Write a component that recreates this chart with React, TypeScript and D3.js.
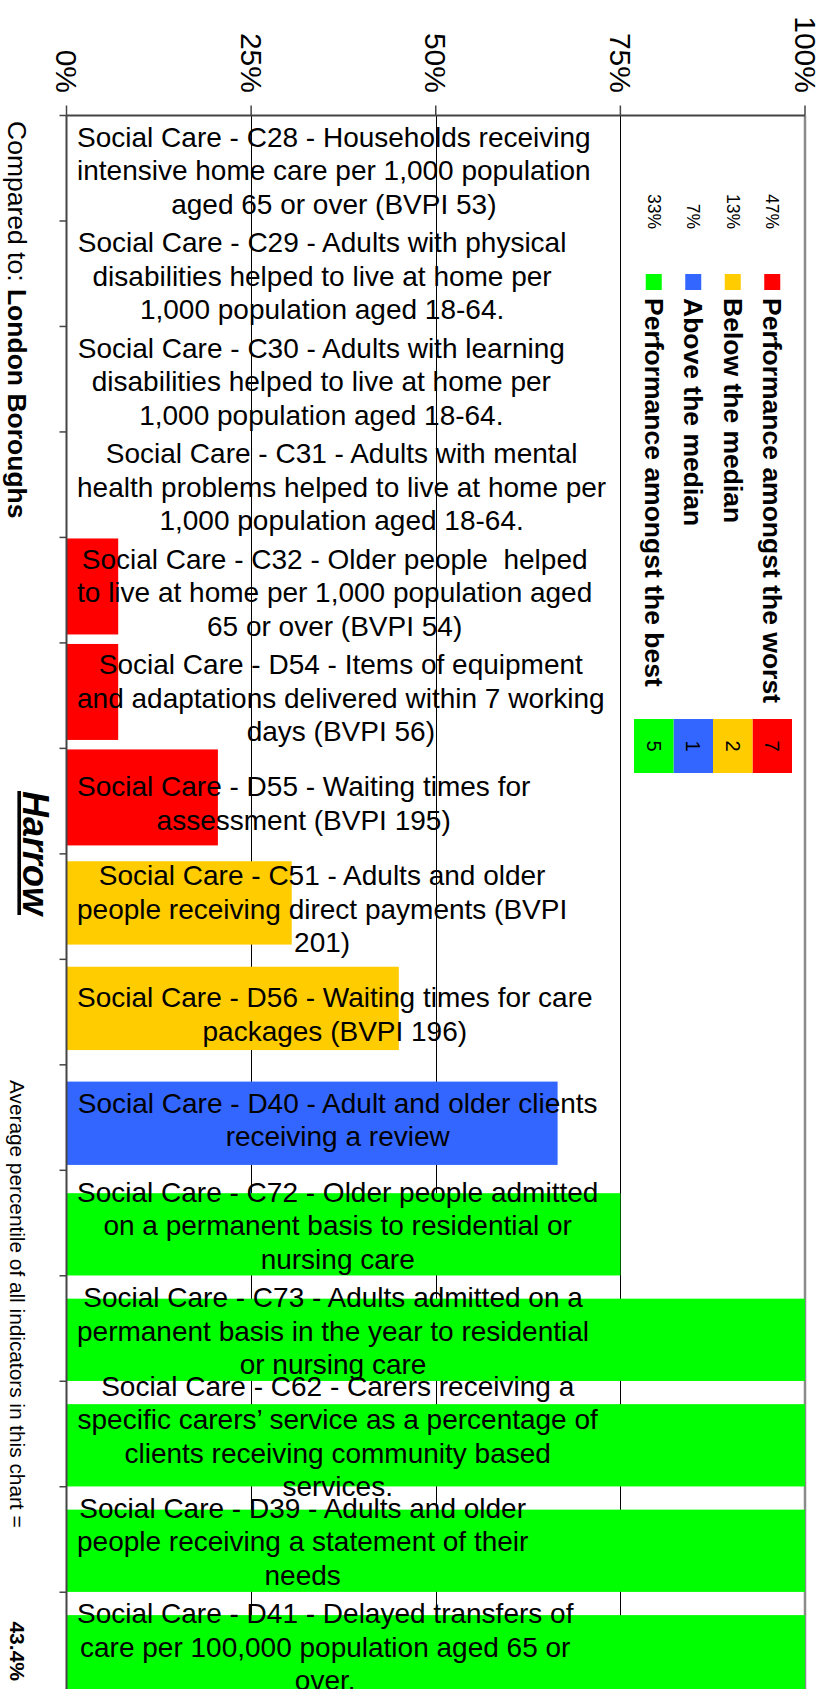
import React, { useMemo } from "react";
import * as d3 from "d3";

// indicator labels, already wrapped as in the source chart
const labels: string[][] = [
  ["Social Care - C28 - Households receiving", "intensive home care per 1,000 population", "aged 65 or over (BVPI 53)"],
  ["Social Care - C29 - Adults with physical", "disabilities helped to live at home per", "1,000 population aged 18-64."],
  ["Social Care - C30 - Adults with learning", "disabilities helped to live at home per", "1,000 population aged 18-64."],
  ["Social Care - C31 - Adults with mental", "health problems helped to live at home per", "1,000 population aged 18-64."],
  ["Social Care - C32 - Older people  helped", "to live at home per 1,000 population aged", "65 or over (BVPI 54)"],
  ["Social Care - D54 - Items of equipment", "and adaptations delivered within 7 working", "days (BVPI 56)"],
  ["Social Care - D55 - Waiting times for", "assessment (BVPI 195)"],
  ["Social Care - C51 - Adults and older", "people receiving direct payments (BVPI", "201)"],
  ["Social Care - D56 - Waiting times for care", "packages (BVPI 196)"],
  ["Social Care - D40 - Adult and older clients", "receiving a review"],
  ["Social Care - C72 - Older people admitted", "on a permanent basis to residential or", "nursing care"],
  ["Social Care - C73 - Adults admitted on a", "permanent basis in the year to residential", "or nursing care"],
  ["Social Care - C62 - Carers receiving a", "specific carers\u2019 service as a percentage of", "clients receiving community based", "services."],
  ["Social Care - D39 - Adults and older", "people receiving a statement of their", "needs"],
  ["Social Care - D41 - Delayed transfers of", "care per 100,000 population aged 65 or", "over."],
];

// percentile of each indicator
const percentiles = [0, 0, 0, 0, 7, 7, 20.5, 30.5, 45, 66.5, 75, 100, 100, 100, 100];
const bands = ["worst", "worst", "worst", "worst", "worst", "worst", "worst", "below", "below", "above", "best", "best", "best", "best", "best"];

const bandKeys = ["worst", "below", "above", "best"];
const bandNames = ["Performance amongst the worst", "Below the median", "Above the median", "Performance amongst the best"];
const xTicks = [0, 25, 50, 75, 100];

const comparedTo = "London Boroughs";
const authority = "Harrow";

// colours and the slightly uneven bar placement of the original
const bandStyle: Record<string, { fill: string; h: number; dy: number }> = {
  worst: { fill: "#FF0000", h: 0.91, dy: -0.035 },
  below: { fill: "#FFCC00", h: 0.79, dy: -0.035 },
  above: { fill: "#3366FF", h: 0.79, dy: 0.054 },
  best: { fill: "#00FF00", h: 0.78, dy: 0.107 },
};

const FONT = "'Liberation Sans', Arial, sans-serif";
const W = 829;
const H = 1689;

export default function App() {
  const left = 66.5;
  const right = 805;
  const top = 115.5;
  const step = 105.48;

  const x = d3.scaleLinear().domain([0, 100]).range([left, right]);
  const y = d3
    .scaleBand<number>()
    .domain(d3.range(labels.length))
    .range([top, top + step * labels.length])
    .padding(0);

  // measure label lines so each block is centred on its longest line
  const widths = useMemo(() => {
    const ctx = document.createElement("canvas").getContext("2d")!;
    ctx.font = `28px 'Liberation Sans', Arial, sans-serif`;
    return labels.map((ls) => d3.max(ls, (l) => ctx.measureText(l).width) || 0);
  }, []);

  const counts = bandKeys.map((k) => bands.filter((b) => b === k).length);
  const total = d3.sum(counts);
  const avg = d3.mean(percentiles)!;

  const legendX = d3.scaleBand<number>().domain([3, 2, 1, 0]).range([634, 792]);
  const lineH = 33.5;

  return (
    <div style={{ position: "absolute", left: 0, top: 0 }}>
      <svg width={W} height={H} style={{ display: "block", fontFamily: FONT }}>
        <rect width={W} height={H} fill="#fff" />

        {/* gridlines */}
        {[25, 50, 75].map((t) => (
          <line key={t} x1={Math.round(x(t)) + 0.5} x2={Math.round(x(t)) + 0.5} y1={top} y2={H} stroke="#000" strokeWidth={1} />
        ))}
        <line x1={x(100)} x2={x(100)} y1={top} y2={H} stroke="#8a8a8a" strokeWidth={2.5} />

        {/* bars */}
        {percentiles.map((v, i) => {
          const s = bandStyle[bands[i]];
          const bh = step * s.h;
          const cy = y(i)! + step / 2 + s.dy * step;
          if (v <= 0) return null;
          return <rect key={i} x={x(0)} y={cy - bh / 2} width={x(v) - x(0)} height={bh} fill={s.fill} />;
        })}

        {/* axes */}
        <line x1={left} x2={right} y1={top} y2={top} stroke="#444" strokeWidth={2} />
        <line x1={left} x2={left} y1={top} y2={H} stroke="#444" strokeWidth={2} />
        {xTicks.map((t) => (
          <line key={t} x1={x(t)} x2={x(t)} y1={top - 10} y2={top} stroke="#444" strokeWidth={1.5} />
        ))}
        {d3.range(labels.length + 1).map((i) => (
          <line key={i} x1={left - 7} x2={left} y1={top + i * step} y2={top + i * step} stroke="#444" strokeWidth={1.5} />
        ))}
        {xTicks.map((t) => (
          <text
            key={t}
            transform={`translate(${x(t)},93) rotate(90)`}
            textAnchor="end"
            dominantBaseline="central"
            fontSize={30}
          >
            {t}%
          </text>
        ))}

        {/* indicator labels */}
        {labels.map((ls, i) => {
          const cx = 77 + widths[i] / 2;
          const cy = y(i)! + step / 2 + 2;
          const y0 = cy - ((ls.length - 1) * lineH) / 2;
          return (
            <text key={i} fontSize={28} textAnchor="middle" dominantBaseline="central" style={{ whiteSpace: "pre" }}>
              {ls.map((l, j) => (
                <tspan key={j} x={cx} y={y0 + j * lineH}>
                  {l}
                </tspan>
              ))}
            </text>
          );
        })}

        {/* legend */}
        {bandKeys.map((k, i) => {
          const cx = legendX(i)! + legendX.bandwidth() / 2;
          const s = bandStyle[k];
          return (
            <g key={k}>
              <rect x={cx - 8} y={274} width={16} height={16} fill={s.fill} />
              <text transform={`translate(${cx},298) rotate(90)`} dominantBaseline="central" fontSize={26.5} fontWeight="bold">
                {bandNames[i]}
              </text>
              <text transform={`translate(${cx},229) rotate(90)`} textAnchor="end" dominantBaseline="central" fontSize={17.5}>
                {Math.round((counts[i] / total) * 100)}%
              </text>
              <rect x={legendX(i)} y={719} width={legendX.bandwidth()} height={54} fill={s.fill} />
              <text transform={`translate(${cx},746) rotate(90)`} textAnchor="middle" dominantBaseline="central" fontSize={20}>
                {counts[i]}
              </text>
            </g>
          );
        })}

        {/* side titles */}
        <text transform="translate(8,121) rotate(90)" fontSize={26.5}>
          <tspan>Compared to: </tspan>
          <tspan fontWeight="bold">{comparedTo}</tspan>
        </text>
        <text
          transform="translate(23,853) rotate(90)"
          textAnchor="middle"
          fontSize={36}
          fontWeight="bold"
          fontStyle="italic"
          textDecoration="underline"
        >
          {authority}
        </text>
        <text transform="translate(10,1080) rotate(90)" fontSize={20.8}>
          Average percentile of all indicators in this chart =
        </text>
        <text transform="translate(10,1681) rotate(90)" fontSize={21} fontWeight="bold" textAnchor="end">
          {avg.toFixed(1)}%
        </text>
      </svg>
    </div>
  );
}
